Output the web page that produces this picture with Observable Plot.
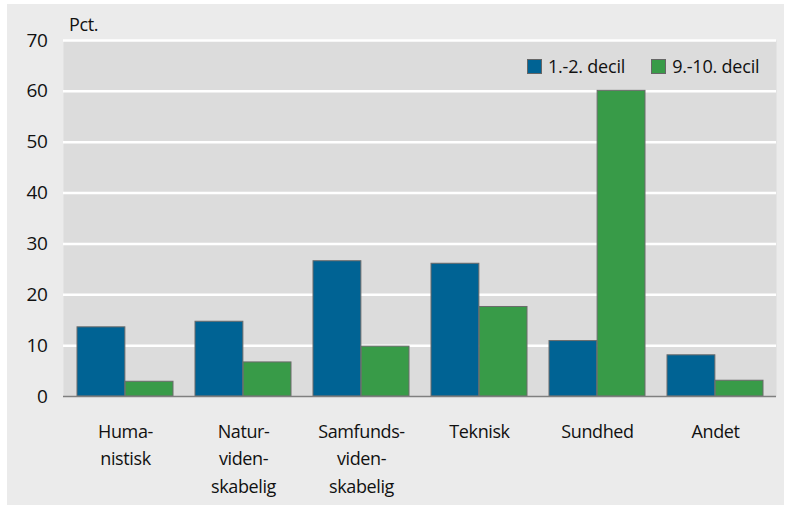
<!DOCTYPE html>
<html>
<head>
<meta charset="utf-8">
<script src="https://cdn.jsdelivr.net/npm/d3@7"></script>
<script src="https://cdn.jsdelivr.net/npm/@observablehq/plot@0.6"></script>
<style>
  html, body { margin: 0; padding: 0; background: #ffffff; }
  #wrap { position: relative; width: 795px; height: 505px; font-family: "Open Sans", sans-serif; color: #111; }
  #bg { position: absolute; left: 7px; top: 4px; width: 777px; height: 501px; background: #ebebeb; }
  #chart { position: absolute; left: 0; top: 0; }
  #unit { position: absolute; left: 69px; top: 12px; font-size: 18px; line-height: 24px; letter-spacing: -0.4px; }
  #legend { position: absolute; left: 527px; top: 54px; font-size: 18px; line-height: 24px; letter-spacing: -0.2px; display: flex; align-items: center; white-space: nowrap; }
  .sw { display: inline-block; width: 13px; height: 13px; border: 1px solid #666; margin-right: 6px; flex: none; }
  .item { display: flex; align-items: center; margin-right: 26px; }
  svg text { letter-spacing: -0.4px; }
</style>
</head>
<body>
<div id="wrap">
  <div id="bg"></div>
  <div id="chart"></div>
  <div id="unit">Pct.</div>
  <div id="legend"></div>
</div>
<script>
const categories = ["Humanistisk", "Naturvidenskabelig", "Samfundsvidenskabelig", "Teknisk", "Sundhed", "Andet"];
const categoryLabels = ["Huma-\nnistisk", "Natur-\nviden-\nskabelig", "Samfunds-\nviden-\nskabelig", "Teknisk", "Sundhed", "Andet"];
const seriesNames = ["1.-2. decil", "9.-10. decil"];
const seriesColors = ["#006394", "#389b48"];
const low = [13.6, 14.7, 26.6, 26.1, 10.9, 8.1];
const high = [2.9, 6.7, 9.8, 17.6, 60.1, 3.1];
const yTicks = [0, 10, 20, 30, 40, 50, 60, 70];

const data = [];
categories.forEach((c, i) => {
  data.push({cat: c, series: seriesNames[0], value: low[i]});
  data.push({cat: c, series: seriesNames[1], value: high[i]});
});

const FONT = "Open Sans, sans-serif";
const W = 795, H = 505, mL = 63, mR = 19, mT = 40, mB = 109;
const padInner = 0.19, padOuter = 0.095;
const step = (W - mL - mR) / (categories.length - padInner + 2 * padOuter);
const half = step * (1 - padInner) / 2;

const chart = Plot.plot({
  width: W, height: H,
  marginLeft: mL, marginRight: mR, marginTop: mT, marginBottom: mB,
  style: {background: "transparent", fontFamily: FONT, fontSize: "18px", color: "#111"},
  x: {domain: categories, paddingInner: padInner, paddingOuter: padOuter},
  y: {domain: [0, 70]},
  color: {domain: seriesNames, range: seriesColors},
  marks: [
    Plot.frame({fill: "#dcdcdc", stroke: null}),
    Plot.ruleY(yTicks.filter(d => d > 0), {stroke: "#ffffff", strokeWidth: 2.5}),
    Plot.barY(data.filter(d => d.series === seriesNames[0]), {x: "cat", y: "value", fill: "series", stroke: "#6b6b6b", strokeWidth: 1, insetRight: half}),
    Plot.barY(data.filter(d => d.series === seriesNames[1]), {x: "cat", y: "value", fill: "series", stroke: "#6b6b6b", strokeWidth: 1, insetLeft: half}),
    Plot.ruleY([0], {stroke: "#7f7f7f", strokeWidth: 1.5}),
    Plot.axisY({ticks: yTicks, tickSize: 0, tickPadding: 16, fontSize: 19, fontFamily: FONT, label: null}),
    Plot.axisX({tickSize: 0, tickPadding: 22, fontSize: 18, fontFamily: FONT, lineHeight: 1.52, label: null,
      tickFormat: d => categoryLabels[categories.indexOf(d)]})
  ]
});
document.getElementById("chart").appendChild(chart);

const legend = document.getElementById("legend");
seriesNames.forEach((s, i) => {
  const it = document.createElement("div");
  it.className = "item";
  const sw = document.createElement("span");
  sw.className = "sw";
  sw.style.background = seriesColors[i];
  it.appendChild(sw);
  it.appendChild(document.createTextNode(s));
  legend.appendChild(it);
});
</script>
</body>
</html>
